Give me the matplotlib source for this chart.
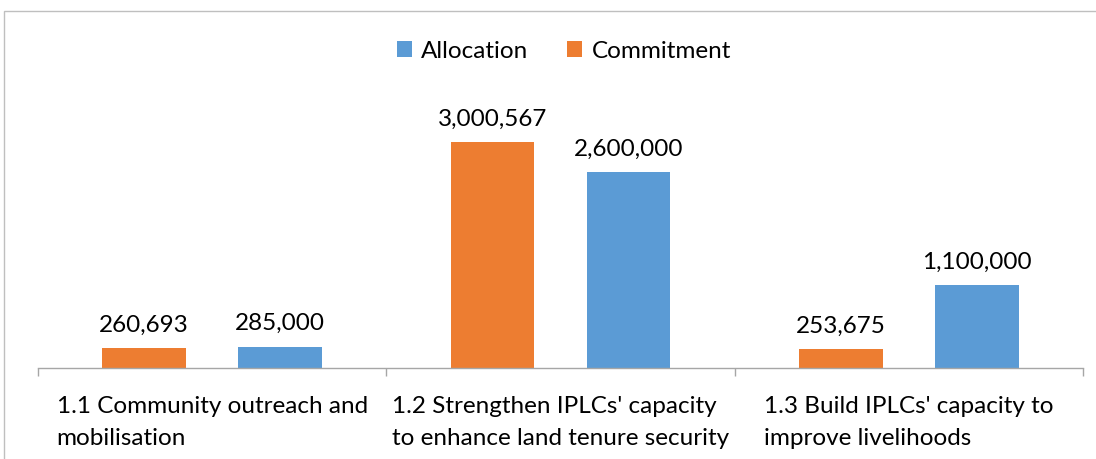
import matplotlib
matplotlib.use("Agg")
import matplotlib.pyplot as plt
import numpy as np
from matplotlib.patches import Rectangle

plt.rcParams["font.family"] = ["Lato", "DejaVu Sans"]

categories = [
    "1.1 Community outreach and\nmobilisation",
    "1.2 Strengthen IPLCs' capacity\nto enhance land tenure security",
    "1.3 Build IPLCs' capacity to\nimprove livelihoods",
]
allocation = [285000, 2600000, 1100000]
commitment = [260693, 3000567, 253675]

BLUE = "#5B9BD5"
ORANGE = "#ED7D31"
AXIS_GREY = "#A6A6A6"
FS = 17.5

fig = plt.figure(figsize=(10.96, 4.59), dpi=100)
fig.patch.set_facecolor("white")

# chart frame (cropped on the right and bottom in the source)
fig.patches.append(Rectangle((4 / 1096, -0.1), 1.2, (459 - 11) / 459 + 0.1,
                             transform=fig.transFigure, fill=False,
                             edgecolor="#BFBFBF", linewidth=1.0))

ax = fig.add_axes([38 / 1096, (459 - 368) / 459, (1083 - 38) / 1096, (368 - 67) / 459])

x = np.arange(len(categories))
width = 0.24
offset = 0.195
b_com = ax.bar(x - offset, commitment, width, color=ORANGE, label="Commitment")
b_all = ax.bar(x + offset, allocation, width, color=BLUE, label="Allocation")

for bars in (b_com, b_all):
    for rect in bars:
        ax.annotate(f"{rect.get_height():,.0f}",
                    (rect.get_x() + rect.get_width() / 2, rect.get_height()),
                    xytext=(0, 9), textcoords="offset points",
                    ha="center", va="bottom", fontsize=FS, color="#000000")

ax.set_xlim(-0.5, len(categories) - 0.5)
ax.set_ylim(0, 4000000)
ax.set_yticks([])
for side in ("top", "right", "left"):
    ax.spines[side].set_visible(False)
ax.spines["bottom"].set_color(AXIS_GREY)
ax.spines["bottom"].set_linewidth(1.0)

ax.set_xticks(np.arange(len(categories) + 1) - 0.5)
ax.set_xticklabels([])
ax.tick_params(axis="x", length=6, color=AXIS_GREY, width=1.0)

for i, lab in enumerate(categories):
    ax.annotate(lab, (i, 0), xytext=(0, -20), textcoords="offset points",
                ha="center", va="top", multialignment="left",
                fontsize=FS, linespacing=1.65, annotation_clip=False)

handles = [b_all, b_com]
fig.legend(handles, ["Allocation", "Commitment"], loc="center",
           bbox_to_anchor=(564 / 1096, 1 - 51 / 459), ncol=2, frameon=False,
           fontsize=FS, handlelength=0.6, handleheight=0.6, handletextpad=0.4,
           columnspacing=1.6)

fig.savefig("out.png", dpi=100, facecolor="white")
